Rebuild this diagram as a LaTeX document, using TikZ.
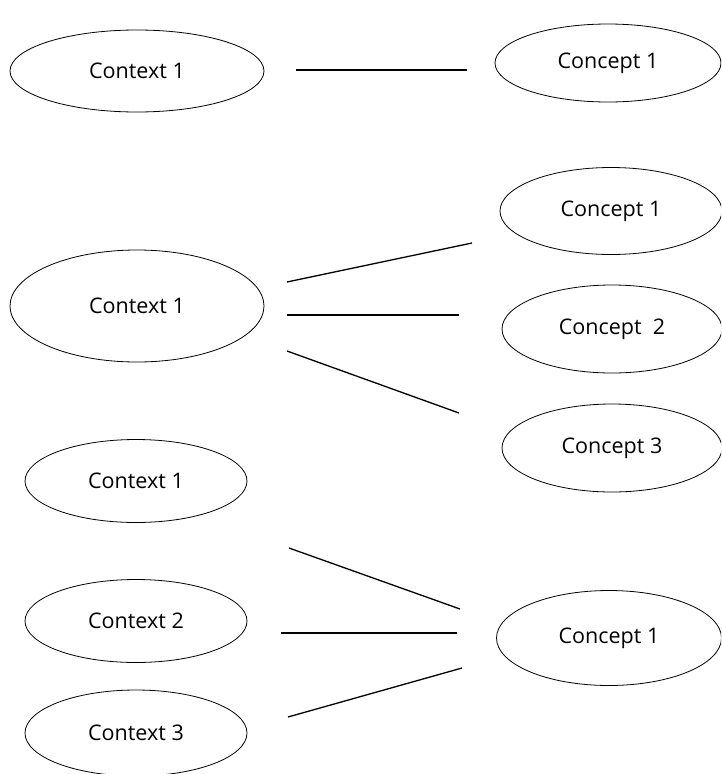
\documentclass[tikz,border=0pt]{standalone}
\usepackage{fontspec}
\setmainfont{Open Sans}
\usetikzlibrary{shapes.geometric}
\begin{document}
\begin{tikzpicture}[x=1pt,y=-1pt,
  ell/.style={draw,ellipse,line width=0.8pt,inner sep=0pt,font=\fontsize{21.5}{24}\selectfont},
  link/.style={line width=1.3pt}]
\useasboundingbox (0,0) rectangle (721,774);
\clip (0,0) rectangle (721,774);
% top
\node[ell,minimum width=254pt,minimum height=82pt] (c1a) at (137,71) {Context 1};
\node[ell,minimum width=226pt,minimum height=78pt] (k1a) at (608,63) {Concept 1};
\coordinate (a1) at (296,70); \coordinate (a2) at (467,70);
\draw[link,line width=1.6pt] (a1) -- (a2);
% middle
\node[ell,minimum width=254pt,minimum height=112pt] (c1b) at (137,306) {Context 1};
\node[ell,minimum width=222pt,minimum height=87pt] (k1b) at (611,211) {Concept 1};
\node[ell,minimum width=220pt,minimum height=88pt] (k2b) at (612,329) {Concept~~2};
\node[ell,minimum width=220pt,minimum height=88pt] (k3b) at (612,448) {Concept 3};
\coordinate (b1) at (287,282); \coordinate (b2) at (472,243);
\coordinate (b3) at (287,315); \coordinate (b4) at (459,315);
\coordinate (b5) at (287,351); \coordinate (b6) at (459,413);
\draw[link] (b1) -- (b2);
\draw[link] (b3) -- (b4);
\draw[link] (b5) -- (b6);
% bottom
\node[ell,minimum width=222pt,minimum height=83pt] (c1c) at (136,481) {Context 1};
\node[ell,minimum width=222pt,minimum height=83pt] (c2c) at (136,621) {Context 2};
\node[ell,minimum width=222pt,minimum height=86pt] (c3c) at (136,733) {Context 3};
\node[ell,minimum width=225pt,minimum height=95pt] (k1c) at (609,638) {Concept 1};
\coordinate (d1) at (289,548); \coordinate (d2) at (460,609);
\coordinate (d3) at (281,633); \coordinate (d4) at (457,633);
\coordinate (d5) at (288,717); \coordinate (d6) at (462,668);
\draw[link] (d1) -- (d2);
\draw[link] (d3) -- (d4);
\draw[link] (d5) -- (d6);
\end{tikzpicture}
\end{document}
